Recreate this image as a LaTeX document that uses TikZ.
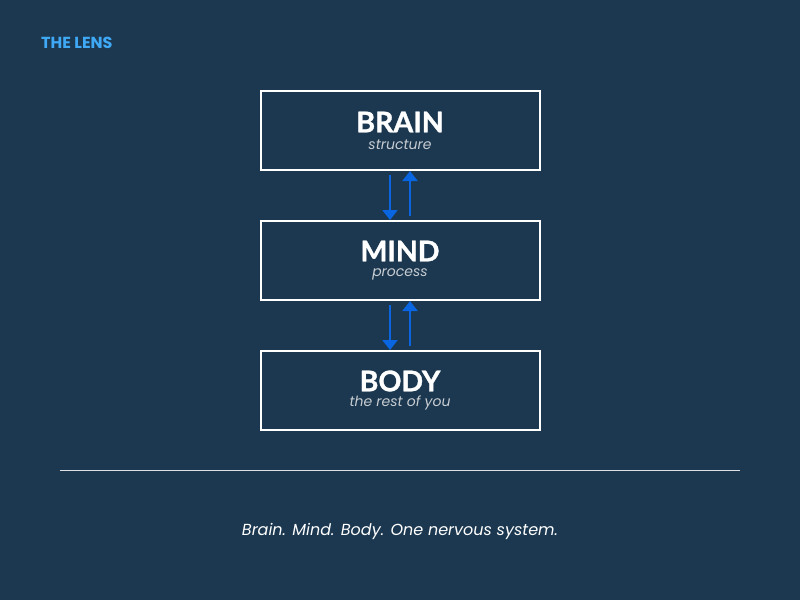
\documentclass[tikz,border=0pt]{standalone}
\usepackage{fontspec}
\setmainfont{Poppins}
\newfontfamily\lato{Lato}[FakeBold=1.2]
\usetikzlibrary{arrows.meta}
\definecolor{bg}{HTML}{1B3850}
\definecolor{arr}{HTML}{0A66E0}
\definecolor{lens}{HTML}{3FA9F5}
\definecolor{sub}{HTML}{C8CDD2}
\tikzset{box/.style={draw=white,line width=2pt,minimum width=279pt,minimum height=79pt,inner sep=0pt},
ttl/.style={text=white,font=\lato\bfseries\fontsize{28.5}{28}\selectfont},
subt/.style={text=sub,font=\itshape\fontsize{14}{14}\selectfont},
link/.style={draw=arr,line width=2.4pt,-{Triangle[length=10pt,width=15pt]}}}
\begin{document}
\begin{tikzpicture}[x=1pt,y=-1pt]
\fill[bg] (0,0) rectangle (800,600);
\useasboundingbox (0,0) rectangle (800,600);
\node[anchor=west,text=lens,font=\bfseries\fontsize{16}{16}\selectfont,inner sep=0pt] (lens) at (41,43) {THE LENS};
\node[box] (brain) at (400.5,130.5) {};
\node[box] (mind) at (400.5,260.5) {};
\node[box] (body) at (400.5,390.5) {};
\node[ttl] (t1) at (400,122) {BRAIN};
\node[subt] (s1) at (400,145) {structure};
\node[ttl] (t2) at (400,251) {MIND};
\node[subt] (s2) at (400,274) {process};
\node[ttl] (t3) at (400,381) {BODY};
\node[subt] (s3) at (400,403) {the rest of you};
\coordinate (a1) at (390,175); \coordinate (a2) at (410,216);
\coordinate (b1) at (390,305); \coordinate (b2) at (410,346);
\draw[link] (a1) -- (a1 |- mind.north);
\draw[link] (a2) -- (a2 |- brain.south);
\draw[link] (b1) -- (b1 |- body.north);
\draw[link] (b2) -- (b2 |- mind.south);
\coordinate (r1) at (60,470); \coordinate (r2) at (740,470);
\draw[white!85!bg,line width=1pt] (r1) -- (r2);
\node[text=white,font=\itshape\fontsize{16}{16}\selectfont] (foot) at (400,531) {Brain. Mind. Body. One nervous system.};
\end{tikzpicture}
\end{document}
